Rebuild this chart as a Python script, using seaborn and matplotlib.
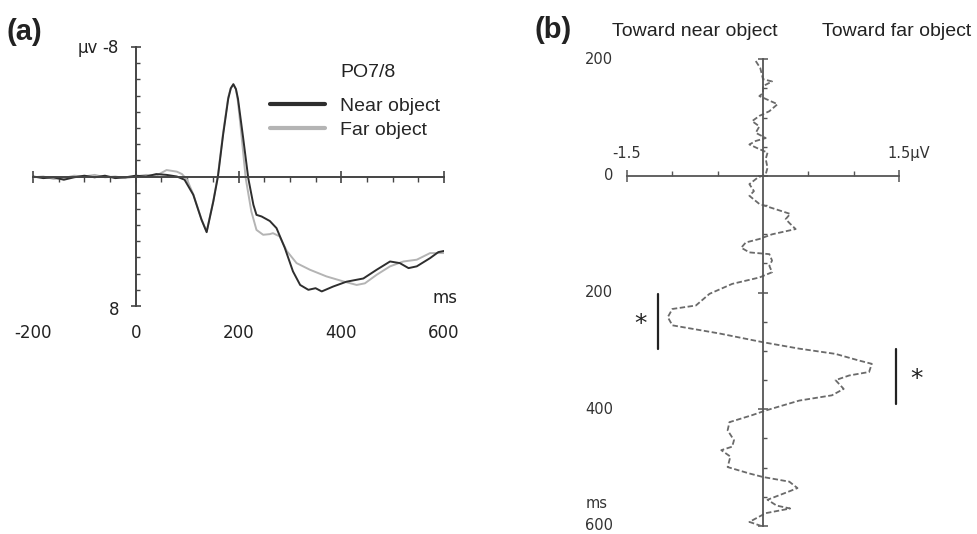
import matplotlib
matplotlib.use("Agg")
import matplotlib.pyplot as plt
import seaborn as sns
import numpy as np
import pandas as pd

# ---- panel (a): ERP at PO7/8, time (ms) vs amplitude (uV, negative up)
near_ms = [-200, -180, -160, -140, -120, -100, -80, -60, -40, -20, 0, 20, 40, 60, 80, 95,
           112, 128, 138, 151, 160, 170, 180, 185, 190, 195, 199, 209, 219, 229, 235, 245,
           261, 274, 290, 306, 320, 336, 350, 362, 384, 410, 443, 469, 495, 514, 531, 547,
           573, 589, 600]
near_uv = [0.0, 0.1, 0.05, 0.2, 0.05, -0.05, 0.05, -0.05, 0.1, 0.05, -0.05, 0.0, -0.15, -0.1, 0.0, 0.2,
           1.13, 2.67, 3.44, 1.54, 0.0, -2.57, -4.8, -5.45, -5.7, -5.4, -4.8, -2.4, 0.1, 1.75, 2.37, 2.47,
           2.75, 3.19, 4.4, 5.86, 6.7, 7.0, 6.9, 7.1, 6.8, 6.5, 6.3, 5.76, 5.25, 5.35, 5.66, 5.55,
           5.04, 4.67, 4.6]

far_ms = [-200, -180, -160, -140, -120, -100, -80, -60, -40, -20, 0, 20, 40, 60, 80, 90, 100,
          112, 128, 138, 151, 160, 170, 180, 185, 190, 195, 199, 205, 214, 225, 235, 248,
          261, 267, 280, 294, 313, 339, 371, 404, 430, 446, 469, 495, 521, 547, 573, 600]
far_uv = [0.05, 0.0, 0.15, 0.1, -0.05, 0.0, -0.1, 0.05, 0.0, 0.1, 0.0, -0.1, -0.05, -0.4, -0.3, -0.15, 0.2,
          1.1, 2.65, 3.4, 1.5, -0.1, -2.7, -4.9, -5.45, -5.7, -5.4, -4.6, -2.8, 0.1, 2.16, 3.3, 3.6,
          3.56, 3.5, 3.7, 4.6, 5.35, 5.76, 6.17, 6.48, 6.7, 6.6, 6.07, 5.55, 5.25, 5.14, 4.73, 4.73]

a_xticks = [-200, 0, 200, 400, 600]
a_xlabels = ["-200", "0", "200", "400", "600"]

# ---- panel (b): difference wave, amplitude (uV) vs time (ms, downwards)
diff_ms = [-197, -185, -166, -162, -154, -142, -137, -123, -111, -103, -94, -85, -74, -65, -60,
           -54, -46, -40, -29, -14, -3, 3, 14, 26, 34, 48, 57, 65, 74, 82, 91, 100, 108, 114,
           123, 131, 134, 145, 154, 165, 174, 185, 202, 222, 228, 242, 256, 259, 270, 285, 296,
           305, 316, 322, 336, 342, 350, 365, 376, 385, 402, 410, 422, 436, 453, 464, 470, 481,
           499, 510, 516, 524, 535, 540, 555, 565, 570, 578, 593, 601]
diff_uv = [-0.08, -0.03, 0.0, 0.1, 0.0, 0.0, -0.04, 0.16, 0.07, -0.04, -0.12, -0.04, -0.08, 0.03, -0.08,
           -0.15, -0.04, 0.05, 0.03, 0.05, 0.03, -0.06, -0.15, -0.1, -0.15, -0.04, 0.14, 0.3, 0.25, 0.3, 0.36, 0.1, -0.04, -0.19,
           -0.24, -0.15, 0.07, 0.1, 0.07, 0.1, -0.04, -0.34, -0.59, -0.74, -1.0, -1.05, -1.0, -0.89, -0.48, 0.0, 0.4,
           0.8, 1.05, 1.2, 1.17, 0.95, 0.8, 0.89, 0.76, 0.4, 0.03, -0.12, -0.37, -0.39, -0.32, -0.34, -0.46, -0.36,
           -0.39, -0.15, 0.0, 0.29, 0.38, 0.3, 0.05, 0.15, 0.3, 0.03, -0.15, 0.0]

b_yticks = [-200, 0, 200, 400, 600]
b_ylabels = ["200", "0", "200", "400", "600"]
sig_windows = [(202, 297), (297, 391)]
sig_x = [-1.16, 1.47]
star_x = [-1.35, 1.69]

W, H = 978, 534
def fxy(x, y):
    return x / W, 1 - y / H

sns.set_theme(style="ticks")
plt.rcParams["font.family"] = ["DejaVu Sans"]
plt.rcParams["axes.facecolor"] = "none"

fig = plt.figure(figsize=(W / 100, H / 100), dpi=100)
axcol = "#444444"

# ---------------- panel (a)
ax = fig.add_axes([33 / W, 1 - 306 / H, 411 / W, 259 / H])
df_a = pd.concat([
    pd.DataFrame({"ms": near_ms, "uv": near_uv, "cond": "Near object"}),
    pd.DataFrame({"ms": far_ms, "uv": far_uv, "cond": "Far object"}),
])
sns.lineplot(data=df_a, x="ms", y="uv", hue="cond", estimator=None, ax=ax,
             palette={"Near object": "#2e2e2e", "Far object": "#b4b4b4"},
             hue_order=["Far object", "Near object"], linewidth=1.4)
ax.set_xlim(-200, 600)
ax.set_ylim(8, -8)
ax.set_xlabel("")
ax.set_ylabel("")
for s in ["top", "right"]:
    ax.spines[s].set_visible(False)
ax.spines["left"].set_position(("data", 0))
ax.spines["bottom"].set_position(("data", 0))
for s in ["left", "bottom"]:
    ax.spines[s].set_color(axcol)
    ax.spines[s].set_linewidth(1.4)
ax.set_xticks(a_xticks)
ax.set_xticks(np.arange(-150, 600, 50), minor=True)
ax.set_yticks([-8, 8])
ax.set_yticks([v for v in range(-7, 8) if v != 0], minor=True)
ax.tick_params(axis="x", which="major", direction="inout", length=9, width=1.2, color=axcol,
               bottom=True, labelbottom=False)
ax.tick_params(axis="x", which="minor", direction="out", length=3.5, width=1, color=axcol, bottom=True)
ax.tick_params(axis="y", which="major", direction="inout", length=7, width=1.2, color=axcol,
               left=True, labelleft=False)
ax.tick_params(axis="y", which="minor", direction="in", length=3, width=1, color=axcol, left=True)

for v, lab in zip(a_xticks, a_xlabels):
    ax.text(v, -0.104, lab, transform=ax.get_xaxis_transform(), ha="center", va="center",
            fontsize=12, color="#222222")
fig.text(*fxy(119, 53), "-8", ha="right", va="baseline", fontsize=12, color="#222222")
fig.text(*fxy(119, 315), "8", ha="right", va="baseline", fontsize=12, color="#222222")
fig.text(*fxy(78, 53), "µv", ha="left", va="baseline", fontsize=12, color="#222222")
fig.text(*fxy(458, 303), "ms", ha="right", va="baseline", fontsize=12, color="#222222")

handles, labels = ax.get_legend_handles_labels()
order = [labels.index("Near object"), labels.index("Far object")]
leg = ax.legend([handles[i] for i in order], [labels[i] for i in order],
                loc="upper left", bbox_to_anchor=fxy(270, 97), bbox_transform=fig.transFigure,
                frameon=False, borderpad=0, borderaxespad=0, handlelength=2.85,
                handletextpad=0.75, labelspacing=0.33,
                prop={"family": "Liberation Sans", "size": 14})
for ln in leg.get_lines():
    ln.set_linewidth(3)
fig.text(*fxy(340, 77), "PO7/8", ha="left", va="baseline", fontsize=14,
         family="Liberation Sans", color="#222222")
fig.text(*fxy(7, 32), "(a)", ha="left", va="center", fontsize=21, fontweight="bold",
         family="Liberation Sans", color="#222222")

# ---------------- panel (b)
bx = fig.add_axes([627 / W, 1 - 526 / H, 272 / W, 466.7 / H])
sns.lineplot(x=diff_uv, y=diff_ms, orient="y", sort=False, estimator=None, ax=bx,
             color="#6a6a6a", linewidth=1.3, linestyle=(0, (3, 1.4)))
bx.set_xlim(-1.5, 1.5)
bx.set_ylim(600, -200)
bx.set_xlabel("")
bx.set_ylabel("")
for s in ["top", "right"]:
    bx.spines[s].set_visible(False)
bx.spines["left"].set_position(("data", 0))
bx.spines["bottom"].set_position(("data", 0))
for s in ["left", "bottom"]:
    bx.spines[s].set_color("#555555")
    bx.spines[s].set_linewidth(1.3)
bx.set_yticks(b_yticks)
bx.set_yticks([v for v in range(-150, 600, 50) if v % 200 != 0], minor=True)
bx.set_xticks([-1.5, 1.5])
bx.set_xticks([-1.0, -0.5, 0.5, 1.0], minor=True)
bx.tick_params(axis="y", which="major", direction="inout", length=7, width=1.1, color="#555555",
               left=True, labelleft=False)
bx.tick_params(axis="y", which="minor", direction="in", length=3, width=1, color="#555555", left=True)
bx.tick_params(axis="x", which="major", direction="inout", length=8, width=1.1, color="#555555",
               bottom=True, labelbottom=False)
bx.tick_params(axis="x", which="minor", direction="in", length=3.5, width=1, color="#555555", bottom=True)

for v, lab in zip(b_yticks, b_ylabels):
    bx.text(-0.05, v, lab, transform=bx.get_yaxis_transform(), ha="right", va="center",
            fontsize=10.5, color="#333333")
fig.text(*fxy(608, 508), "ms", ha="right", va="baseline", fontsize=10.5, color="#333333")
bx.annotate("-1.5", xy=(-1.5, 0), xytext=(0, 16), textcoords="offset points",
            ha="center", va="center", fontsize=10.5, color="#333333")
bx.annotate("1.5μV", xy=(1.5, 0), xytext=(-8.5, 16), textcoords="offset points",
            ha="left", va="center", fontsize=10.5, color="#333333")

for (t0, t1), xv, sx in zip(sig_windows, sig_x, star_x):
    bx.plot([xv, xv], [t0, t1], color="#222222", linewidth=1.6, clip_on=False)
    bx.text(sx, (t0 + t1) / 2, "*", ha="center", va="center_baseline", fontsize=18,
            color="#222222", clip_on=False)

fig.text(*fxy(695, 36), "Toward near object", ha="center", va="baseline", fontsize=14,
         family="Liberation Sans", color="#222222")
fig.text(*fxy(897, 36), "Toward far object", ha="center", va="baseline", fontsize=14,
         family="Liberation Sans", color="#222222")
fig.text(*fxy(535, 30), "(b)", ha="left", va="center", fontsize=21, fontweight="bold",
         family="Liberation Sans", color="#222222")

fig.savefig("out.png", dpi=100)
